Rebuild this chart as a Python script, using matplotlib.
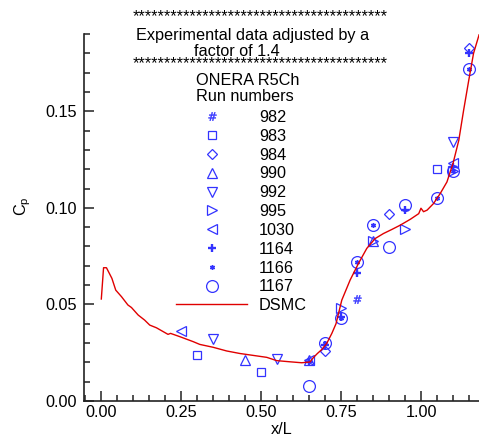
import matplotlib
matplotlib.use('Agg')
import matplotlib.pyplot as plt
from matplotlib.ticker import MultipleLocator, FormatStrFormatter

plt.rcParams['font.family'] = ['Liberation Sans', 'DejaVu Sans']

# DSMC surface pressure coefficient
dsmc_x = [0.002, 0.009, 0.018, 0.035, 0.047, 0.065, 0.085, 0.096, 0.117, 0.137,
          0.153, 0.174, 0.210, 0.218, 0.247, 0.289, 0.309, 0.351, 0.393, 0.434,
          0.476, 0.518, 0.549, 0.590, 0.627, 0.653, 0.663, 0.676, 0.690, 0.705,
          0.721, 0.734, 0.752, 0.778, 0.804, 0.830, 0.856, 0.882, 0.908, 0.934,
          0.966, 0.992, 0.999, 1.007, 1.018, 1.038, 1.059, 1.080, 1.099, 1.117,
          1.132, 1.148, 1.163, 1.181]
dsmc_cp = [0.0528, 0.0690, 0.0690, 0.0635, 0.0574, 0.0540, 0.0497, 0.0484, 0.0445, 0.0419,
           0.0393, 0.0379, 0.0345, 0.0350, 0.0333, 0.0307, 0.0293, 0.0278, 0.0259, 0.0246,
           0.0236, 0.0226, 0.0209, 0.0203, 0.0198, 0.0202, 0.0224, 0.0246, 0.0267, 0.0298,
           0.0350, 0.0400, 0.0522, 0.0626, 0.0712, 0.0790, 0.0841, 0.0867, 0.0888, 0.0910,
           0.0941, 0.0970, 0.0998, 0.0980, 0.0988, 0.1022, 0.1074, 0.1134, 0.1230, 0.1350,
           0.1505, 0.1660, 0.1800, 0.1900]

# ONERA R5Ch experimental runs (already scaled by 1.4)
run_982_x, run_982_cp = [0.80], [0.053]
run_983_x, run_983_cp = [0.30, 0.50, 1.05], [0.024, 0.015, 0.120]
run_984_x, run_984_cp = [0.70, 0.90, 1.15], [0.026, 0.0967, 0.183]
run_990_x, run_990_cp = [0.45, 0.65, 0.85], [0.021, 0.021, 0.083]
run_992_x, run_992_cp = [0.35, 0.55, 1.10], [0.032, 0.022, 0.134]
run_995_x, run_995_cp = [0.75, 0.85, 0.95, 1.10], [0.048, 0.083, 0.089, 0.119]
run_1030_x, run_1030_cp = [0.25, 0.65, 1.10], [0.036, 0.021, 0.123]
run_1164_x = [0.65, 0.70, 0.75, 0.80, 0.95, 1.10, 1.15]
run_1164_cp = [0.020, 0.029, 0.0436, 0.0664, 0.099, 0.121, 0.180]
run_1166_x = [0.70, 0.75, 0.80, 0.85, 1.05, 1.10, 1.15]
run_1166_cp = [0.030, 0.043, 0.072, 0.091, 0.105, 0.119, 0.172]
run_1167_x = [0.65, 0.70, 0.75, 0.80, 0.85, 0.90, 0.95, 1.05, 1.10, 1.15]
run_1167_cp = [0.008, 0.030, 0.0428, 0.072, 0.091, 0.0795, 0.1016, 0.105, 0.119, 0.172]

runs = [
    ('982', run_982_x, run_982_cp, r'$\#$', 6.0, 0.3),
    ('983', run_983_x, run_983_cp, 's', 5.8, 0.9),
    ('984', run_984_x, run_984_cp, 'D', 5.2, 0.9),
    ('990', run_990_x, run_990_cp, '^', 6.5, 0.9),
    ('992', run_992_x, run_992_cp, 'v', 6.5, 0.9),
    ('995', run_995_x, run_995_cp, '>', 6.5, 0.9),
    ('1030', run_1030_x, run_1030_cp, '<', 6.5, 0.9),
    ('1164', run_1164_x, run_1164_cp, '+', 5.5, 1.7),
    ('1166', run_1166_x, run_1166_cp, (6, 2, 0), 3.5, 1.0),
    ('1167', run_1167_x, run_1167_cp, 'o', 8.5, 0.9),
]

W, H = 479, 436
fig = plt.figure(figsize=(W / 100, H / 100), dpi=100)
ax = fig.add_axes([84 / W, 35 / H, (W - 84) / W, (401 - 34) / H])

blue = '#3333ff'
handles = []
for name, xs, ys, mk, ms, mew in runs:
    h, = ax.plot(xs, ys, linestyle='none', marker=mk, markersize=ms,
                 markerfacecolor=blue if mk == r'$\#$' else 'none',
                 markeredgecolor=blue, markeredgewidth=mew, label=name)
    handles.append(h)

line, = ax.plot(dsmc_x, dsmc_cp, color='#e00000', linewidth=1.0, label='DSMC')
handles.append(line)

ax.set_xlim(-0.052, 1.18)
ax.set_ylim(0, 0.19)
ax.xaxis.set_major_locator(MultipleLocator(0.25))
ax.xaxis.set_minor_locator(MultipleLocator(0.05))
ax.yaxis.set_major_locator(MultipleLocator(0.05))
ax.yaxis.set_minor_locator(MultipleLocator(0.01))
ax.xaxis.set_major_formatter(FormatStrFormatter('%.2f'))
ax.yaxis.set_major_formatter(FormatStrFormatter('%.2f'))
ax.tick_params(which='both', direction='in', labelsize=11.7, width=1.1, color='#222222')
ax.tick_params(which='major', length=7)
ax.tick_params(which='minor', length=4.3)
ax.tick_params(axis='y', pad=5)
ax.tick_params(axis='x', pad=3)
for side in ('top', 'right'):
    ax.spines[side].set_visible(False)
for side in ('left', 'bottom'):
    ax.spines[side].set_linewidth(1.2)
    ax.spines[side].set_color('#222222')

ax.set_xlabel('x/L', fontsize=11.7, labelpad=1)
ax.set_ylabel(r'C$_\mathregular{p}$', fontsize=11.7)
ax.yaxis.set_label_coords(-0.13, 0.53)

# header notes above the legend
def ftext(px, py, s, **kw):
    fig.text(px / W, 1 - py / H, s, fontsize=11.7, va='baseline', **kw)

stars = '*' * 40
ftext(260, 21.5, stars, ha='center')
ftext(253, 40, 'Experimental data adjusted by a', ha='center')
ftext(237, 56.5, 'factor of 1.4', ha='center')
ftext(260, 68.5, stars, ha='center')
ftext(196, 85, 'ONERA R5Ch', ha='left')
ftext(196, 100.7, 'Run numbers', ha='left')

fig.legend(handles=handles, loc='upper left', bbox_to_anchor=(176 / W, 1 - 110 / H),
           frameon=False, fontsize=11.7, numpoints=1, borderpad=0, borderaxespad=0,
           handlelength=4.37, handletextpad=0.74, labelspacing=0.235)

fig.savefig('out.png', dpi=100)
